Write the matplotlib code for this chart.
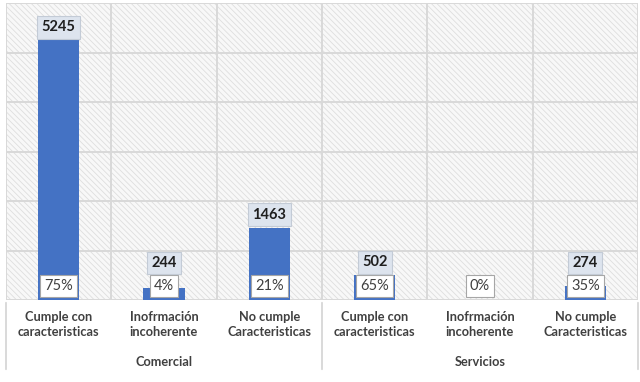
import matplotlib.pyplot as plt
from matplotlib.patches import Rectangle
import numpy as np

# data
groups = ["Comercial", "Servicios"]
categories = ["Cumple con\ncaracteristicas", "Inofrmación\nincoherente", "No cumple\nCaracteristicas"]
values = [5245, 244, 1463, 502, 0, 274]
percents = ["75%", "4%", "21%", "65%", "0%", "35%"]

plt.rcParams["font.family"] = ["Lato", "DejaVu Sans"]
plt.rcParams["hatch.linewidth"] = 0.6
plt.rcParams["hatch.color"] = "#dedede"

bar_col = "#4472C4"
txt_col = "#404040"
grid_col = "#d9d9d9"

fig = plt.figure(figsize=(6.4, 3.82), dpi=100)
ax = fig.add_axes([6 / 640, 1 - 300 / 382, 632 / 640, 297 / 382])

n = len(values)
x = np.arange(n)
ax.set_xlim(-0.5, n - 0.5)
ax.set_ylim(0, 6000)

# hatched background
ax.add_patch(Rectangle((0, 0), 1, 1, transform=ax.transAxes, facecolor="#f8f8f8",
                       hatch="\\\\\\\\\\\\", edgecolor="#dedede", linewidth=0, zorder=0))

for yv in range(0, 6001, 1000):
    ax.axhline(yv, color=grid_col, lw=1.4, zorder=1)
for xv in np.arange(-0.5, n, 1):
    ax.axvline(xv, color=grid_col, lw=1.4, zorder=1)

ax.bar(x, values, width=0.39, color=bar_col, zorder=2)

for s in ax.spines.values():
    s.set_visible(False)
ax.set_xticks([])
ax.set_yticks([])

# px per data unit
ppu = 297 / 6000.0
for i, v in enumerate(values):
    # percentage box at the bottom of each bar
    ax.annotate(percents[i], (x[i], 0), xytext=(0, 14), textcoords="offset pixels",
                ha="center", va="center", fontsize=10.5, color=txt_col, zorder=5,
                bbox=dict(boxstyle="square,pad=0.28", fc="white", ec="#a6a6a6", lw=0.8))
    if v == 0:
        continue
    h = v * ppu
    y_lab = max(h + 13, 37)
    if h + 13 < 37:
        # leader line from label down to the bar
        ax.annotate("", xy=(x[i], h), xytext=(x[i], y_lab / ppu),
                    arrowprops=dict(arrowstyle="-", color="#a6a6a6", lw=0.8), zorder=3)
    ax.annotate(str(v), (x[i], 0), xytext=(0, y_lab), textcoords="offset pixels",
                ha="center", va="center", fontsize=10.5, fontweight="bold", color="#1f1f1f", zorder=6,
                bbox=dict(boxstyle="square,pad=0.3", fc="#dde4ee", ec="#c3cbd6", lw=0.8))

# category labels
for i in range(n):
    ax.annotate(categories[i % 3], (x[i], 0), xycoords=("data", "axes fraction"),
                xytext=(0, -11), textcoords="offset pixels",
                ha="center", va="top", fontsize=9.2, fontweight="bold", color=txt_col,
                linespacing=1.3, annotation_clip=False)

for g, name in enumerate(groups):
    ax.annotate(name, (1 + 3 * g, 0), xycoords=("data", "axes fraction"),
                xytext=(0, -62), textcoords="offset pixels",
                ha="center", va="center", fontsize=9.2, fontweight="bold", color=txt_col,
                annotation_clip=False)

# separator lines under the axis
for xv in [-0.5, 2.5, 5.5]:
    ax.annotate("", xy=(xv, 0), xycoords=("data", "axes fraction"),
                xytext=(xv, -72 / 297), textcoords=("data", "axes fraction"),
                arrowprops=dict(arrowstyle="-", color=grid_col, lw=1.4), annotation_clip=False)

fig.savefig("out.png", dpi=100)
